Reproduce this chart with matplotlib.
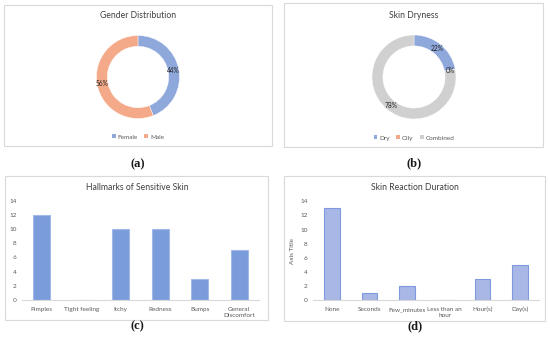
import matplotlib
matplotlib.use("Agg")
import matplotlib.pyplot as plt
from matplotlib.patches import Rectangle, Patch

plt.rcParams['font.family'] = ['Lato', 'DejaVu Sans']

# ---- data ----
gender_labels = ["Female", "Male"]
gender_values = [44, 56]
dry_labels = ["Dry", "Oily", "Combined"]
dry_values = [22, 0, 78]
hall_cats = ["Pimples", "Tight feeling", "Itchy", "Redness", "Bumps", "General\nDiscomfort"]
hall_vals = [12, 0, 10, 10, 3, 7]
dur_cats = ["None", "Seconds", "Few_minutes", "Less than an\nhour", "Hour(s)", "Day(s)"]
dur_vals = [13, 1, 2, 0, 3, 5]
yticks = [0, 2, 4, 6, 8, 10, 12, 14]

W, H = 550, 346
fig = plt.figure(figsize=(W / 100, H / 100), dpi=100)


def fx(x):
    return x / W


def fy(y):
    return 1 - y / H


def frame(x0, y0, x1, y1):
    fig.add_artist(Rectangle((fx(x0), fy(y1)), fx(x1) - fx(x0), fy(y0) - fy(y1),
                             transform=fig.transFigure, fill=False,
                             edgecolor="#D9D9D9", lw=0.8))


def ax_px(x0, y0, x1, y1):
    return fig.add_axes([fx(x0), fy(y1), fx(x1) - fx(x0), fy(y0) - fy(y1)])


txt_col = "#595959"
title_col = "#404040"

# frames
frame(4, 5, 272, 146)
frame(284, 3, 543, 147)
frame(5, 176, 268, 320)
frame(284, 176, 545, 321)


def donut(cx, cy, r, values, colors, labels, title_y, legend_y):
    ax = ax_px(cx - r, cy - r, cx + r, cy + r)
    wedges, texts, autot = ax.pie(values, colors=colors, startangle=90, counterclock=False,
                                  radius=1.0, autopct=lambda p: f"{p:.0f}%",
                                  pctdistance=0.87,
                                  wedgeprops=dict(width=0.26, edgecolor="white", linewidth=0.3),
                                  textprops=dict(fontsize=4.8, color="#262626"))
    ax.set_xlim(-1, 1)
    ax.set_ylim(-1, 1)
    ax.set_aspect("equal")
    ax.axis("off")
    handles = [Patch(facecolor=c, edgecolor="none") for c in colors]
    fig.legend(handles, labels, loc="center", bbox_to_anchor=(fx(cx), fy(legend_y)),
               ncol=len(labels), frameon=False, fontsize=4.6, handlelength=0.6,
               handleheight=0.6, handletextpad=0.3, columnspacing=1.0,
               labelcolor=txt_col)


# (a)
donut(138, 77, 41.5, gender_values, ["#8FA8DC", "#F4AA88"], gender_labels, 16, 137)
fig.text(fx(138), fy(16), "Gender Distribution", ha="center", va="center",
         fontsize=6.2, color=title_col)
# (b)
donut(414, 77, 42, dry_values, ["#8FA8DC", "#F4AA88", "#D0D0D0"], dry_labels, 16, 138)
fig.text(fx(414), fy(15), "Skin Dryness", ha="center", va="center",
         fontsize=6.2, color=title_col)


def bars(x0, x1, y0, ytop, cats, vals, face, edge, title, title_x, ylabel=None):
    ax = ax_px(x0, ytop, x1, y0)
    ax.bar(range(len(cats)), vals, width=0.42, color=face, edgecolor=edge, linewidth=0.8)
    ax.set_xlim(-0.5, len(cats) - 0.5)
    ax.set_ylim(0, 14)
    ax.set_yticks(yticks)
    ax.set_xticks(range(len(cats)))
    ax.set_xticklabels(cats)
    for s in ["top", "right", "left"]:
        ax.spines[s].set_visible(False)
    ax.spines["bottom"].set_color("#D9D9D9")
    ax.spines["bottom"].set_linewidth(0.8)
    ax.tick_params(axis="both", length=0, labelsize=4.6, colors=txt_col, pad=3)
    ax.tick_params(axis="y", pad=4)
    ax.tick_params(axis="x", pad=5)
    for t in ax.get_xticklabels():
        t.set_linespacing(1.3)
    ax.patch.set_alpha(0)
    if ylabel:
        ax.set_ylabel(ylabel, fontsize=4.6, color=txt_col, labelpad=4)
    fig.text(fx(title_x), fy(188), title, ha="center", va="center", fontsize=6.2, color=title_col)
    return ax


bars(22, 259, 299.7, 201, hall_cats, hall_vals, "#7B9CDB", "#A2B8E8",
     "Hallmarks of Sensitive Skin", 137)
bars(313, 539, 300, 201.3, dur_cats, dur_vals, "#A9B7E6", "#7E99DD",
     "Skin Reaction Duration", 415, ylabel="Axis Title")

# panel labels
for lab, x, y in [("(a)", 138, 164), ("(b)", 414, 163), ("(c)", 137, 326), ("(d)", 415, 326)]:
    fig.text(fx(x), fy(y), lab, ha="center", va="center", fontsize=9,
             family=["Liberation Serif", "DejaVu Serif"], fontweight="bold", color="#1a1a1a")

fig.savefig("out.png", dpi=100)
